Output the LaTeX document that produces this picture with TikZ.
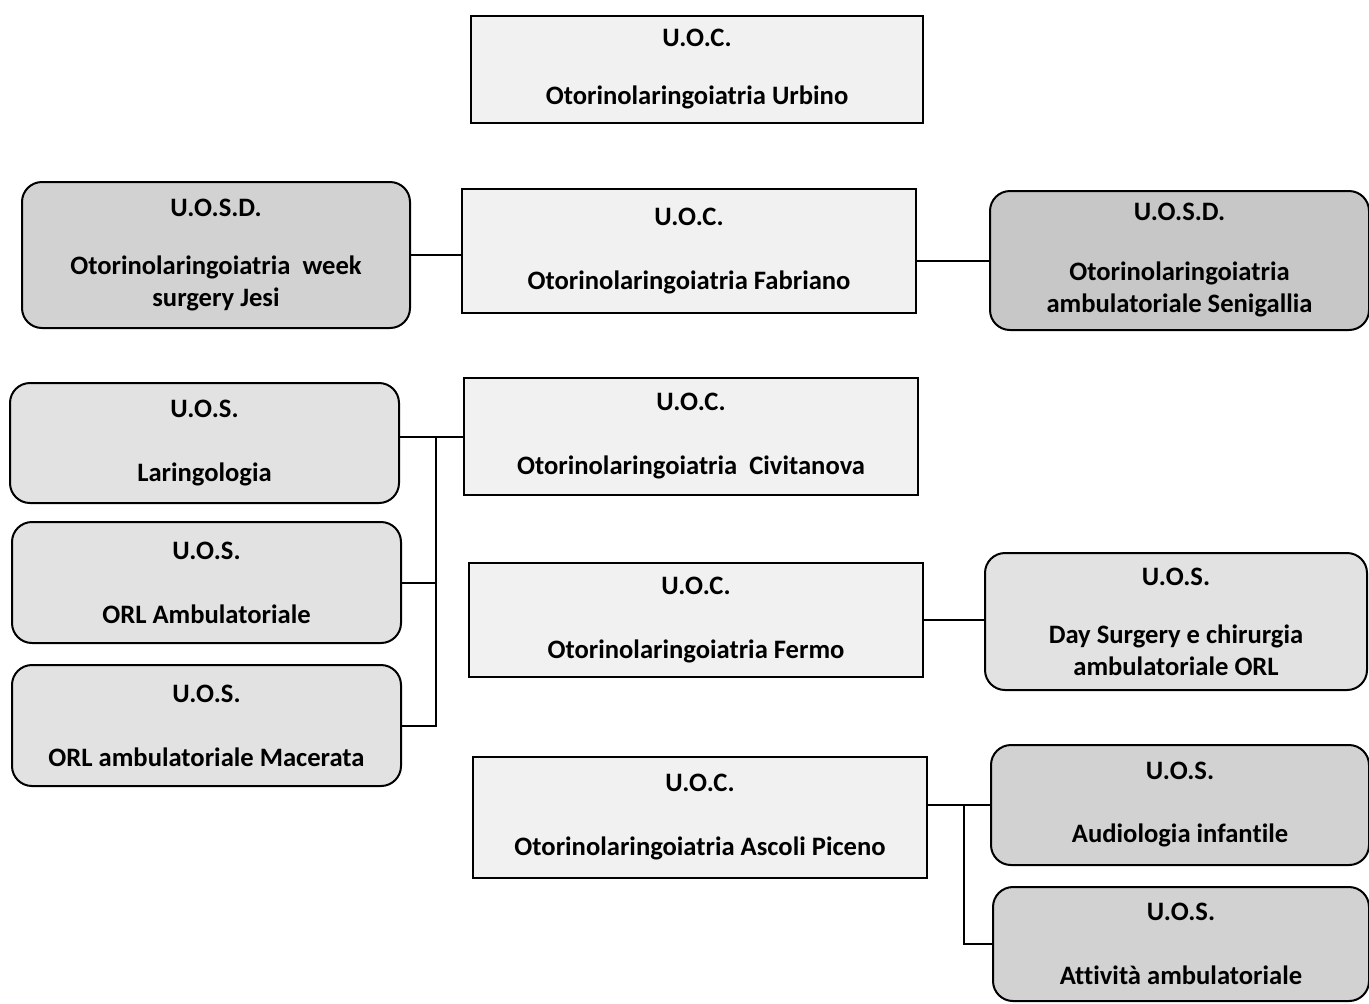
\documentclass[tikz,border=0pt]{standalone}
\usepackage{fontspec}
\setmainfont{Carlito}[Ligatures=NoCommon]
\usetikzlibrary{positioning}
\definecolor{uocfill}{HTML}{F1F1F1}
\definecolor{uosfill}{HTML}{E2E2E2}
\definecolor{uosdfill}{HTML}{D2D2D2}

\begin{document}
\begin{tikzpicture}[x=0.5pt, y=-0.5pt,
    font=\fontsize{13.3}{16}\selectfont\bfseries,
    uocbox/.style={draw, line width=1pt, fill=uocfill, align=center, inner sep=0pt},
    uosbox/.style={draw, line width=1pt, fill=uosfill, rounded corners=10pt, align=center, inner sep=0pt},
    link/.style={line width=1pt}]
  \useasboundingbox (0,0) rectangle (1369,1003);

  % U.O.C. column
  \node[uocbox, minimum width=226pt, minimum height=53.5pt] (urbino) at (697,69.5)
    {U.O.C.\\[13pt]Otorinolaringoiatria Urbino};
  \node[uocbox, minimum width=227pt, minimum height=62pt] (fabriano) at (689,251)
    {U.O.C.\\[16pt]Otorinolaringoiatria Fabriano};
  \node[uocbox, minimum width=227pt, minimum height=58.5pt] (civitanova) at (691,436.5)
    {U.O.C.\\[16pt]Otorinolaringoiatria\ \ Civitanova};
  \node[uocbox, minimum width=227pt, minimum height=57pt] (fermo) at (696,620)
    {U.O.C.\\[16pt]Otorinolaringoiatria Fermo};
  \node[uocbox, minimum width=227pt, minimum height=60.5pt] (ascoli) at (700,817.5)
    {U.O.C.\\[16pt]Otorinolaringoiatria Ascoli Piceno};

  % left side
  \node[uosbox, fill=uosdfill, minimum width=194pt, minimum height=73pt] (jesi) at (216,255)
    {U.O.S.D.\\[13pt]Otorinolaringoiatria\ \ week\\surgery Jesi};
  \node[uosbox, minimum width=194.5pt, minimum height=60pt] (laringologia) at (204.5,443)
    {U.O.S.\\[16pt]Laringologia};
  \node[uosbox, minimum width=194.5pt, minimum height=60.5pt] (orlamb) at (206.5,582.5)
    {U.O.S.\\[16pt]ORL Ambulatoriale};
  \node[uosbox, minimum width=194.5pt, minimum height=60.5pt] (macerata) at (206.5,725.5)
    {U.O.S.\\[16pt]ORL ambulatoriale Macerata};

  % right side
  \node[uosbox, fill=uosdfill!95!black, minimum width=189.5pt, minimum height=69.5pt] (senigallia) at (1179.5,260.5)
    {U.O.S.D.\\[14pt]Otorinolaringoiatria\\ambulatoriale Senigallia};
  \node[uosbox, minimum width=191pt, minimum height=68.5pt] (daysurgery) at (1176,621.5)
    {U.O.S.\\[13pt]Day Surgery e chirurgia\\ambulatoriale ORL};
  \node[uosbox, fill=uosdfill, minimum width=189pt, minimum height=60pt] (audiologia) at (1180,805)
    {U.O.S.\\[15.5pt]Audiologia infantile};
  \node[uosbox, fill=uosdfill, minimum width=188pt, minimum height=57pt] (attivita) at (1181,944)
    {U.O.S.\\[16pt]Attività ambulatoriale};

  % connectors
  \draw[link] (jesi.east) -- (jesi.east -| fabriano.west);
  \draw[link] (fabriano.east |- senigallia.west) -- (senigallia.west);
  \draw[link] (laringologia.east |- civitanova.west) -- (civitanova.west);
  \coordinate (busL) at (436,436.5);
  \draw[link] (busL) |- (orlamb.east);
  \draw[link] (busL) |- (macerata.east);
  \draw[link] (fermo.east) -- (fermo.east -| daysurgery.west);
  \draw[link] (ascoli.east |- audiologia.west) -- (audiologia.west);
  \coordinate (busR) at (964,805);
  \draw[link] (busR) |- (attivita.west);
\end{tikzpicture}
\end{document}
